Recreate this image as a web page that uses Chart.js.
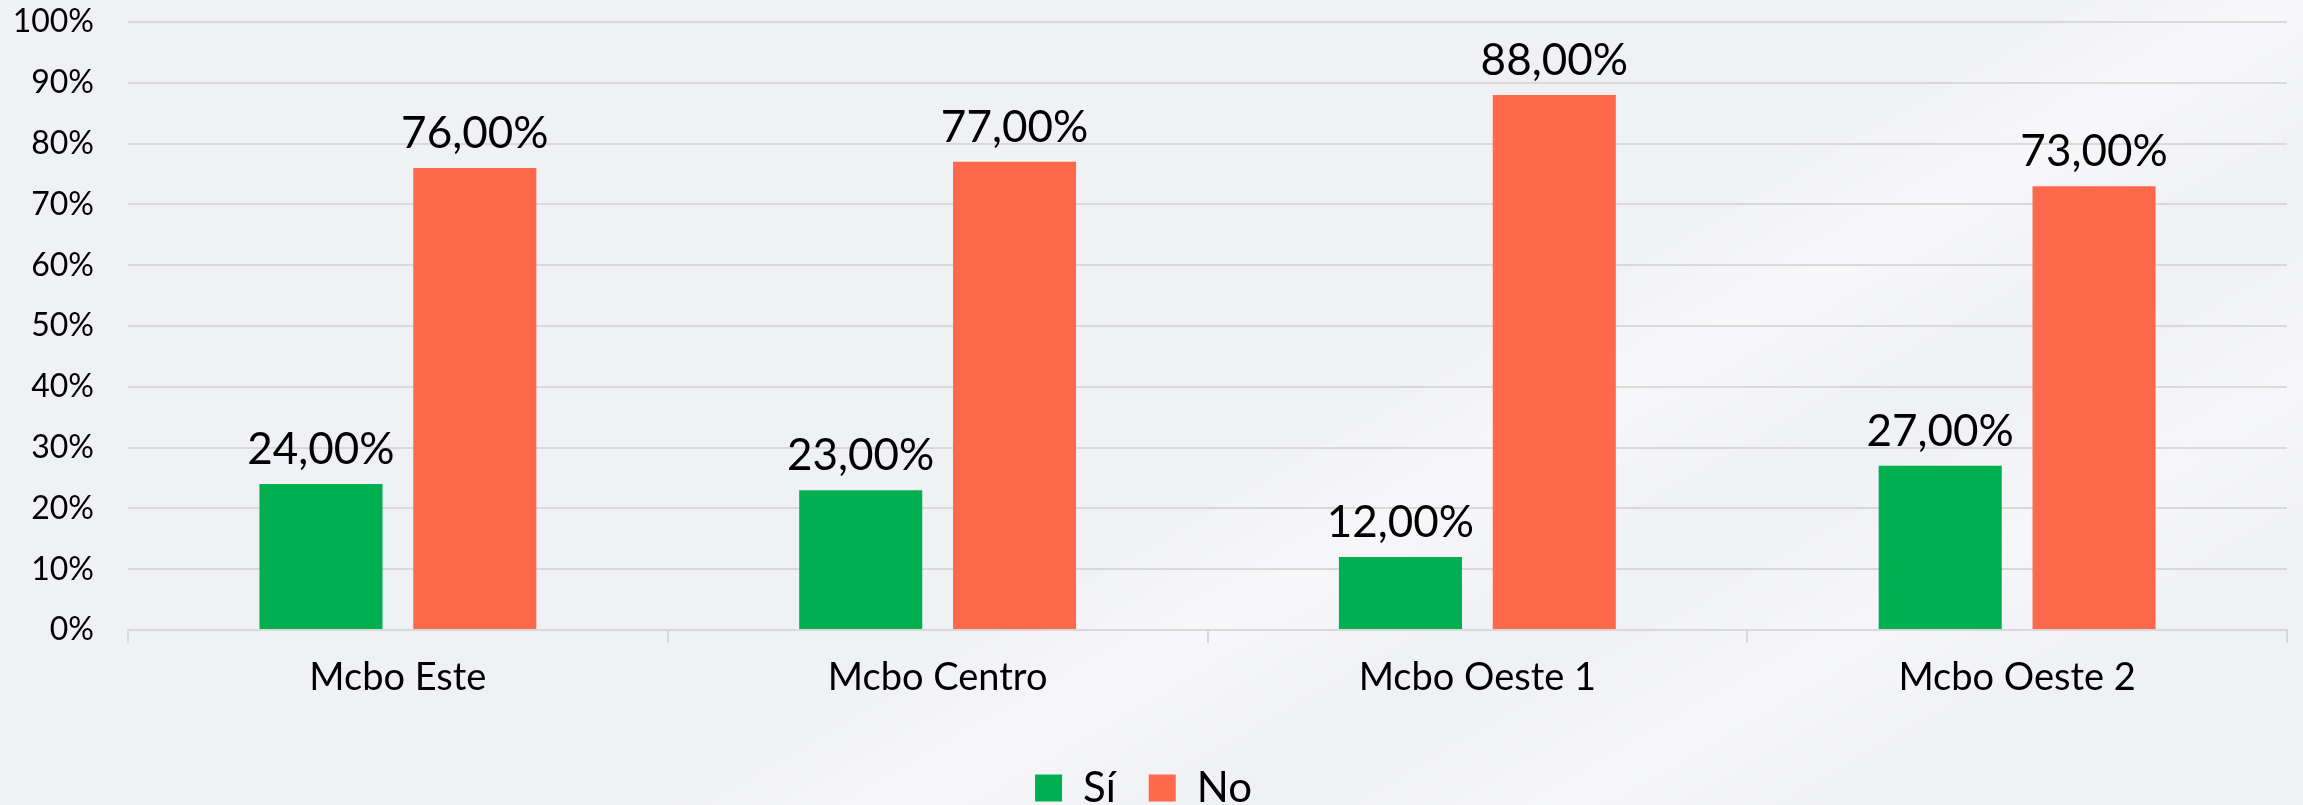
<!DOCTYPE html>
<html>
<head>
<meta charset="utf-8">
<script src="https://cdn.jsdelivr.net/npm/chart.js@4"></script>
<style>
  html, body { margin: 0; padding: 0; }
  body {
    width: 2303px;
    height: 805px;
    overflow: hidden;
    background-color: #f0f1f5;
    background-image:
      linear-gradient(150deg, rgba(255,255,255,0) 55%, rgba(255,255,255,0.45) 62%, rgba(255,255,255,0) 70%),
      linear-gradient(150deg, rgba(255,255,255,0) 72%, rgba(255,255,255,0.4) 80%, rgba(255,255,255,0) 88%);
  }
  #wrap { position: relative; width: 2303px; height: 805px; }
</style>
</head>
<body>
<div id="wrap"><canvas id="chart"></canvas></div>
<script>
// ======== Data ========
const categories = ['Mcbo Este', 'Mcbo Centro', 'Mcbo Oeste 1', 'Mcbo Oeste 2'];
const siValues = [24, 23, 12, 27];
const noValues = [76, 77, 88, 73];
const yTicks = [0, 10, 20, 30, 40, 50, 60, 70, 80, 90, 100];

const FONT = 'Lato, "Open Sans", sans-serif';
const GRID = '#d9d9d9';

function pct(v) {
  return v.toFixed(2).replace('.', ',') + '%';
}

// draws the value above each bar
const valueLabels = {
  id: 'valueLabels',
  afterDatasetsDraw(chart) {
    const ctx = chart.ctx;
    ctx.save();
    ctx.font = '44px ' + FONT;
    ctx.fillStyle = '#000';
    ctx.textAlign = 'center';
    ctx.textBaseline = 'bottom';
    chart.data.datasets.forEach((ds, i) => {
      chart.getDatasetMeta(i).data.forEach((bar, j) => {
        ctx.fillText(pct(ds.data[j]), bar.x, bar.y - 12);
      });
    });
    ctx.restore();
  }
};

new Chart(document.getElementById('chart'), {
  type: 'bar',
  data: {
    labels: categories,
    datasets: [
      { label: 'Sí', data: siValues, backgroundColor: '#00b050' },
      { label: 'No', data: noValues, backgroundColor: '#ff694b' }
    ]
  },
  options: {
    responsive: true,
    maintainAspectRatio: false,
    animation: false,
    categoryPercentage: 0.57,
    barPercentage: 0.8,
    layout: {
      autoPadding: false,
      padding: { top: 22, right: 16, bottom: -14, left: 0 }
    },
    plugins: {
      legend: {
        position: 'bottom',
        labels: {
          font: { family: FONT, size: 42 },
          color: '#000',
          boxWidth: 27,
          boxHeight: 27,
          padding: 33
        }
      },
      tooltip: { enabled: false }
    },
    scales: {
      x: {
        afterFit(scale) { scale.height = 104; },
        grid: {
          display: true,
          drawOnChartArea: false,
          color: GRID,
          lineWidth: 2,
          tickLength: 13
        },
        border: { display: true, color: GRID, width: 2 },
        ticks: {
          font: { family: FONT, size: 38 },
          color: '#000',
          padding: 12
        }
      },
      y: {
        min: 0,
        max: 100,
        afterFit(scale) { scale.width = 128; },
        afterBuildTicks(scale) { scale.ticks = yTicks.map(v => ({ value: v })); },
        // invisible ticks keep the labels away from the plot
        grid: { color: GRID, lineWidth: 2, drawTicks: true, tickLength: 34, tickColor: 'rgba(0,0,0,0)' },
        border: { display: false },
        ticks: {
          font: { family: FONT, size: 32 },
          color: '#000',
          padding: 0,
          callback: v => v + '%'
        }
      }
    }
  },
  plugins: [valueLabels]
});
</script>
</body>
</html>
